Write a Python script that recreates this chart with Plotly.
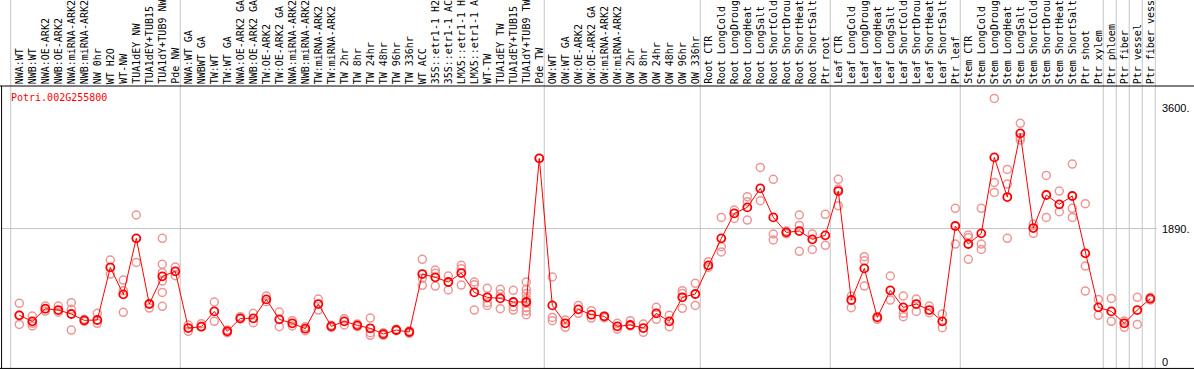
import plotly.graph_objects as go

gene = "Potri.002G255800"

labels = [
    "NWA:WT", "NWB:WT", "NWA:OE-ARK2", "NWB:OE-ARK2", "NWA:miRNA-ARK2", "NWB:miRNA-ARK2",
    "NW 0hr", "WT H2O", "WT-NW", "TUA1dEY NW", "TUA1dEY+TUB15", "TUA1dY+TUB9 NW", "Pde NW",
    "NWA:WT GA", "NWBWT GA", "TW:WT", "TW:WT GA", "NWA:OE-ARK2 GA", "NWB:OE-ARK2 GA",
    "TW:OE-ARK2", "TW:OE-ARK2 GA", "NWA:miRNA-ARK2", "NWB:miRNA-ARK2", "TW:miRNA-ARK2",
    "TW:miRNA-ARK2", "TW 2hr", "TW 8hr", "TW 24hr", "TW 48hr", "TW 96hr", "TW 336hr",
    "WT ACC", "35S::etr1-1 H2", "35S::etr1-1 AC", "LMX5::etr1-1 H", "LMX5::etr1-1 A",
    "WT-TW", "TUA1dEY TW", "TUA1dEY+TUB15", "TUA1dY+TUB9 TW", "Pde TW",
    "OW:WT", "OW:WT GA", "OW:OE-ARK2", "OW:OE-ARK2 GA", "OW:miRNA-ARK2", "OW:miRNA-ARK2",
    "OW 2hr", "OW 8hr", "OW 24hr", "OW 48hr", "OW 96hr", "OW 336hr",
    "Root CTR", "Root LongCold", "Root LongDroug", "Root LongHeat", "Root LongSalt",
    "Root ShortCold", "Root ShortDrou", "Root ShortHeat", "Root ShortSalt", "Ptr root",
    "Leaf CTR", "Leaf LongCold", "Leaf LongDroug", "Leaf LongHeat", "Leaf LongSalt",
    "Leaf ShortCold", "Leaf ShortDrou", "Leaf ShortHeat", "Leaf ShortSalt", "Ptr leaf",
    "Stem CTR", "Stem LongCold", "Stem LongDroug", "Stem LongHeat", "Stem LongSalt",
    "Stem ShortCold", "Stem ShortDrou", "Stem ShortHeat", "Stem ShortSalt", "Ptr shoot",
    "Ptr xylem", "Ptr phloem", "Ptr fiber", "Ptr vessel", "Ptr fiber vess",
]

means = [
    661, 576, 755, 736, 680, 590, 595, 1340, 958, 1751, 821, 1213, 1284,
    481, 500, 717, 434, 618, 618, 887, 604, 548, 472, 821, 505, 576, 519, 477,
    396, 453, 425, 1246, 1199, 1133, 1260, 986, 916, 901, 850, 850, 2884,
    802, 548, 746, 670, 647, 505, 524, 481, 689, 576, 916, 963,
    1369, 1751, 2105, 2190, 2459, 2048, 1836, 1855, 1737, 1794,
    2421, 878, 1326, 632, 1015, 774, 821, 736, 576, 1926,
    1671, 1822, 2898, 2336, 3238, 1897, 2365, 2233, 2351, 1539,
    774, 717, 548, 736, 897,
]

replicates = [
    [831, 533, 661], [651, 510, 548], [793, 722], [793, 705], [840, 746, 453],
    [604, 576], [689, 548], [1444, 1246], [1161, 1010, 703], [2082, 1411],
    [831, 764], [1751, 1383, 1265, 1147, 986, 788], [1345, 1222],
    [524, 434], [543, 505], [850, 576], [453, 415], [642, 609], [689, 557],
    [935, 854], [708, 500], [585, 510], [500, 444], [892, 736], [519, 491],
    [614, 524], [538, 500], [623, 415, 378], [415, 378], [463, 444], [444, 406],
    [1454, 1185, 1086], [1303, 1256, 1076], [1218, 1020], [1369, 1322, 1090],
    [1133, 1095, 736], [1043, 840, 802], [1029, 963, 755], [1015, 783, 736],
    [1133, 1029, 972, 901, 831, 769, 722, 670], [2884],
    [1204, 632, 585], [595, 491], [802, 689], [727, 623], [647, 627],
    [548, 467], [585, 510], [538, 420], [774, 604], [661, 500], [1010, 972, 760],
    [1114, 802],
    [1421, 1340], [2048, 1633, 1558], [2152, 2034], [2341, 2270, 2011],
    [2756, 2284], [2587, 1813, 1728], [1855, 1817], [2082, 1935, 1567],
    [1812, 1595], [2091, 1652],
    [2587, 2450, 2214], [935, 769], [1492, 1435, 1076], [642, 604],
    [1218, 878], [935, 689, 642], [892, 717], [793, 698], [680, 486],
    [2176, 1671],
    [1798, 1761, 1454], [2176, 1671, 1595], [3733, 2544, 2402],
    [2728, 2520, 1751], [3380, 3181, 3144], [1954, 1822], [2643, 2048],
    [2421, 2129], [2804, 2176, 2048], [2242, 1359, 1005],
    [887, 661], [901, 576], [580, 491], [916, 533], [916, 878],
]

group_ends = [12, 40, 52, 62, 72, 83, 84, 85, 86, 87]
ytick_vals = [0, 1890, 3600]
ytick_text = ["0", "1890.", "3600."]

xs = list(range(len(labels)))
rep_x = [i for i, reps in enumerate(replicates) for _ in reps]
rep_y = [v for reps in replicates for v in reps]

fig = go.Figure()
fig.add_trace(go.Scatter(
    x=rep_x, y=rep_y, mode="markers",
    marker=dict(symbol="circle-open", size=8, color="rgb(238,150,150)",
                line=dict(width=1.5, color="rgb(238,150,150)")),
    hoverinfo="skip", showlegend=False, cliponaxis=False,
))
fig.add_trace(go.Scatter(
    x=xs, y=means, mode="lines+markers",
    line=dict(color="#ff0000", width=1),
    marker=dict(symbol="circle-open", size=8, color="#ff0000",
                line=dict(width=1.8, color="#ff0000")),
    showlegend=False, cliponaxis=False,
))

shapes = []
grey = "#c4c4c4"
for b in [-1] + group_ends:
    xv = b + 0.38 if b >= 0 else -0.66
    shapes.append(dict(type="line", xref="x", yref="paper", x0=xv, x1=xv,
                       y0=0, y1=1.31, line=dict(color=grey, width=1), layer="below"))
shapes.append(dict(type="line", xref="paper", yref="y", x0=0, x1=1, y0=1890, y1=1890,
                   line=dict(color=grey, width=1), layer="below"))
# black frame lines
shapes.append(dict(type="line", xref="paper", yref="paper", x0=-0.01, x1=1.04, y0=1, y1=1,
                   line=dict(color="black", width=1)))
shapes.append(dict(type="line", xref="paper", yref="paper", x0=-0.01, x1=1.04, y0=0.002, y1=0.002,
                   line=dict(color="black", width=1)))
shapes.append(dict(type="line", xref="paper", yref="paper", x0=0.0005, x1=0.0005, y0=0, y1=1,
                   line=dict(color="black", width=1)))

annotations = [dict(
    text=gene, xref="paper", yref="paper", x=0.0069, y=0.961,
    xanchor="left", yanchor="middle", showarrow=False,
    font=dict(family="DejaVu Sans Mono", size=10, color="#ff0000"),
)]
for i, lab in enumerate(labels):
    annotations.append(dict(
        text=lab, xref="x", yref="paper", x=i, y=1, yshift=1,
        xanchor="center", yanchor="bottom", textangle=-90, showarrow=False,
        borderpad=0,
        font=dict(family="DejaVu Sans Mono", size=10, color="black"),
    ))
for v, t in zip(ytick_vals, ytick_text):
    annotations.append(dict(
        text=t, xref="paper", yref="y", x=1.0035, y=v,
        xanchor="left", yanchor="middle", showarrow=False, borderpad=0,
        font=dict(family="Liberation Sans", size=11, color="black"),
    ))

fig.update_layout(
    width=1194, height=370,
    margin=dict(l=1, r=37, t=86, b=1, autoexpand=False),
    paper_bgcolor="white", plot_bgcolor="white",
    shapes=shapes,
    annotations=annotations,
    xaxis=dict(
        range=[-1.408, 87.515], showticklabels=False, automargin=False,
        showgrid=False, zeroline=False, showline=False, ticks="",
    ),
    yaxis=dict(
        range=[-99, 3909], showticklabels=False, automargin=False,
        showgrid=False, zeroline=False, showline=False, ticks="",
    ),
)

fig.write_html(
    "out.html",
    config={"displayModeBar": False},
    post_script="document.body.style.margin='0';document.body.style.padding='0';",
)
